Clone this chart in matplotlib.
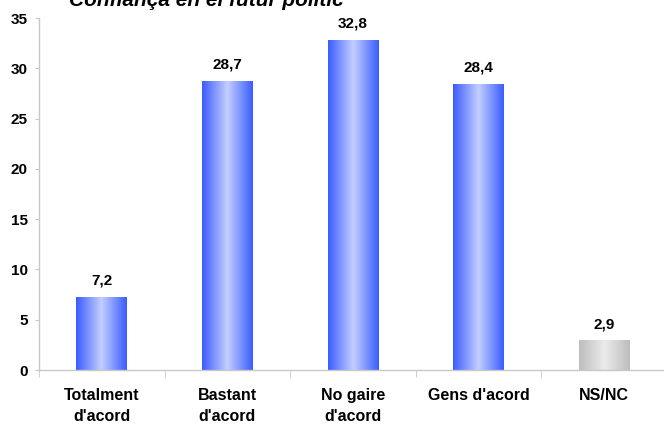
import numpy as np
import matplotlib
matplotlib.use("Agg")
import matplotlib.pyplot as plt
from matplotlib.colors import LinearSegmentedColormap

categories = ["Totalment\nd'acord", "Bastant\nd'acord", "No gaire\nd'acord", "Gens d'acord", "NS/NC"]
values = [7.2, 28.7, 32.8, 28.4, 2.9]
labels = ["7,2", "28,7", "32,8", "28,4", "2,9"]
yticks = [0, 5, 10, 15, 20, 25, 30, 35]
title = "Confiança en el futur polític"

plt.rcParams['font.family'] = ['Liberation Sans', 'DejaVu Sans']

fig = plt.figure(figsize=(6.64, 4.24), dpi=100)
W, H = 664, 424
left, right = 39, 667
bottom, top = 370, 18
ax = fig.add_axes([left / W, 1 - bottom / H, (right - left) / W, (bottom - top) / H])

blue = LinearSegmentedColormap.from_list("b", ["#3a5cff", "#c4cfff", "#3a5cff"])
gray = LinearSegmentedColormap.from_list("g", ["#bdbdbd", "#ebebeb", "#bdbdbd"])
grad = np.linspace(0, 1, 256).reshape(1, -1)

bw = 0.405
x = np.arange(len(categories))
for i, v in enumerate(values):
    cmap = gray if categories[i] == "NS/NC" else blue
    ax.imshow(grad, cmap=cmap, aspect='auto', extent=(i - bw / 2, i + bw / 2, 0, v), zorder=2, interpolation='bilinear')
    ax.text(i, v + 1.65, labels[i], ha='center', va='center', fontsize=11, fontweight='bold')

ax.set_xlim(-0.5, len(categories) - 0.5)
ax.set_ylim(0, 35)
ax.set_yticks(yticks)
ax.set_yticklabels([str(t) for t in yticks], fontsize=11, fontweight='bold')
ax.set_xticks(x)
ax.set_xticklabels(categories, fontsize=11.5, fontweight='bold', linespacing=1.5)
ax.set_xticks(np.arange(-0.5, len(categories), 1), minor=True)
ax.tick_params(axis='x', which='major', length=0, pad=13)
ax.tick_params(axis='x', which='minor', length=5, color='#c8c8c8', direction='out')
ax.tick_params(axis='y', length=3, color='#c8c8c8', direction='out', pad=5)
for s in ['top', 'right']:
    ax.spines[s].set_visible(False)
for s in ['left', 'bottom']:
    ax.spines[s].set_color('#c8c8c8')
    ax.spines[s].set_linewidth(1)

fig.text(206 / W, 1 - 6 / H, title, ha='center', va='baseline', fontsize=15, fontweight='bold', fontstyle='italic')

fig.savefig("out.png", dpi=100)
